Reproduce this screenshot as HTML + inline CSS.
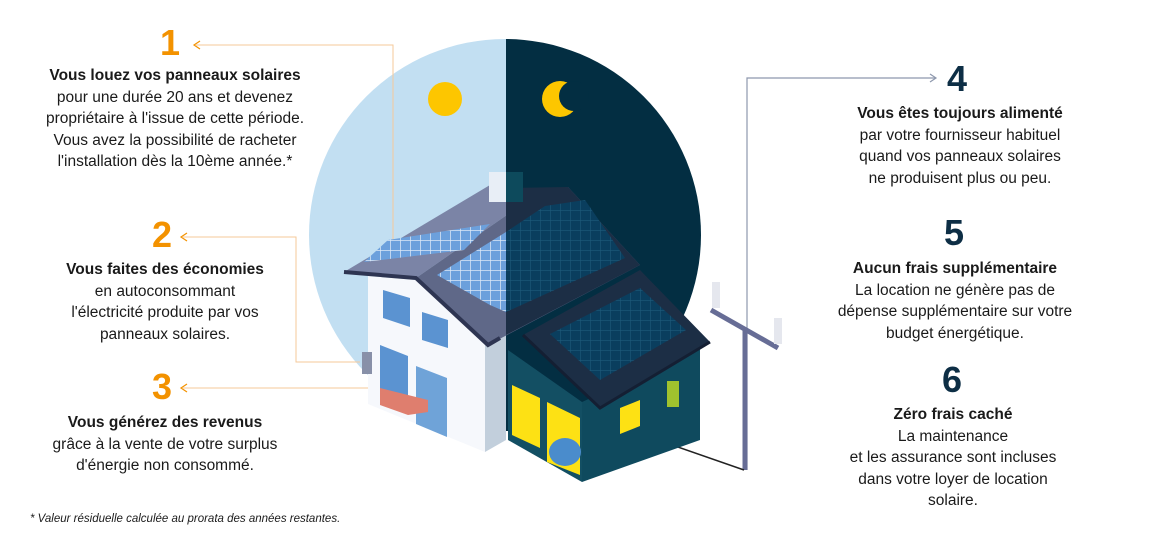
<!DOCTYPE html>
<html><head><meta charset="utf-8"><style>
body{margin:0;width:1152px;height:560px;background:#fff;font-family:"Liberation Sans",sans-serif;position:relative;overflow:hidden;color:#1a1a1a}
.n{position:absolute;font-weight:bold;font-size:36px;text-align:center}
.t{position:absolute;font-size:15.5px;line-height:21.5px;text-align:center}
.t b{font-weight:bold}
.o{color:#f39200}.d{color:#0d2e45}
</style></head><body>
<svg width="1152" height="560" style="position:absolute;left:0;top:0">
<defs><clipPath id="l"><rect x="0" y="0" width="506" height="560"/></clipPath><clipPath id="r"><rect x="506" y="0" width="700" height="560"/></clipPath>
<pattern id="pd" width="10" height="10" patternUnits="userSpaceOnUse"><rect width="10" height="10" fill="#6ca0dc"/><path d="M0 0H10M0 0V10" stroke="#dbe8f7" stroke-width="1.5"/></pattern>
<pattern id="pn" width="10" height="10" patternUnits="userSpaceOnUse"><rect width="10" height="10" fill="#0a3e5e"/><path d="M0 0H10M0 0V10" stroke="#1e5a7a" stroke-width="1.2"/></pattern></defs>
<circle cx="505" cy="235" r="196" fill="#c2dff2" clip-path="url(#l)"/>
<circle cx="505" cy="235" r="196" fill="#032e42" clip-path="url(#r)"/>
<circle cx="445" cy="99" r="17" fill="#fdc600"/>
<circle cx="560" cy="99" r="18" fill="#fdc600"/>
<circle cx="574" cy="96" r="15" fill="#032e42"/>
<!-- connectors -->
<g fill="none" stroke="#f6c99a" stroke-width="1"><path d="M196 45H393V400"/><path d="M183 237H296V362H360"/><path d="M183 388H380"/></g>
<path d="M200 41L194 45L200 49M187 233L181 237L187 241M187 384L181 388L187 392" fill="none" stroke="#f39200" stroke-width="1.2"/>
<g fill="none" stroke="#8e98ad" stroke-width="1.2"><path d="M747 470V78H935"/><path d="M930 74L936 78L930 82"/></g>
<!-- pole -->
<path d="M711 310L778 348" stroke="#676d96" stroke-width="5"/>
<path d="M745 330V470" stroke="#676d96" stroke-width="5"/>
<rect x="712" y="282" width="8" height="26" fill="#e5e7ee"/><rect x="774" y="318" width="8" height="26" fill="#e5e7ee"/>
<path d="M672 405V445L744 470" fill="none" stroke="#222" stroke-width="1.5"/>
<!-- white house -->
<polygon points="368,276 416,280 485,340 485,452 368,404" fill="#f6f8fc"/>
<polygon points="485,340 506,330 506,440 485,452" fill="#c2cfdc"/>
<polygon points="383,290 410,298 410,327 383,318" fill="#5b93d1"/>
<polygon points="422,312 448,320 448,348 422,340" fill="#5b93d1"/>
<polygon points="380,345 408,356 408,400 380,390" fill="#5b93d1"/>
<polygon points="416,366 447,378 447,437 416,424" fill="#6fa3d8"/>
<polygon points="380,388 428,400 428,412 408,415 380,405" fill="#df7e6e"/>
<rect x="362" y="352" width="10" height="22" fill="#8890a8"/>
<!-- main roof -->
<polygon points="344,272 416,278 540,192 490,185" fill="#7b84a6"/>
<polygon points="416,278 540,192 568,187 640,265 488,345" fill="#5f6888"/>
<path d="M344,272 L416,278 L488,345 L500,338" fill="none" stroke="#2e3552" stroke-width="4"/>
<polygon points="364,262 388,240 490,224 464,250" fill="url(#pd)"/>
<polygon points="437,275 506,232 506,312 490,305" fill="url(#pd)"/>
<rect x="489" y="172" width="34" height="30" fill="#e8eef6"/>
<!-- night roof -->
<polygon points="506,188 568,187 640,265 506,335" fill="#1c2e45"/>
<polygon points="506,232 545,206 585,200 625,258 506,312" fill="url(#pn)"/>
<rect x="506" y="172" width="17" height="30" fill="#0d4a5c"/>
<!-- annex -->
<polygon points="508,350 582,402 582,482 508,440" fill="#134f63"/>
<polygon points="582,402 700,348 700,440 582,482" fill="#0f4a5e"/>
<polygon points="512,385 540,398 540,448 512,435" fill="#fde114"/>
<polygon points="547,402 580,418 580,475 547,462" fill="#fde114"/>
<ellipse cx="565" cy="452" rx="16" ry="14" fill="#4a8ccc"/>
<polygon points="620,408 640,400 640,426 620,434" fill="#fde114"/>
<rect x="667" y="381" width="12" height="26" fill="#a0c22e"/>
<polygon points="523,335 640,270 710,342 600,408" fill="#1c2e45"/>
<path d="M523,335 L600,408 L710,342" fill="none" stroke="#141f33" stroke-width="3"/>
<polygon points="550,334 640,288 686,330 600,380" fill="url(#pn)"/>
</svg>
<div class="n o" style="left:160px;top:22px">1</div>
<div class="t" style="left:25px;top:65px;width:300px"><b>Vous louez vos panneaux solaires</b><br>pour une durée 20 ans et devenez<br>propriétaire à l'issue de cette période.<br>Vous avez la possibilité de racheter<br>l'installation dès la 10ème année.*</div>
<div class="n o" style="left:152px;top:214px">2</div>
<div class="t" style="left:15px;top:259px;width:300px"><b>Vous faites des économies</b><br>en autoconsommant<br>l'électricité produite par vos<br>panneaux solaires.</div>
<div class="n o" style="left:152px;top:366px">3</div>
<div class="t" style="left:15px;top:412px;width:300px"><b>Vous générez des revenus</b><br>grâce à la vente de votre surplus<br>d'énergie non consommé.</div>
<div class="n d" style="left:947px;top:58px">4</div>
<div class="t" style="left:810px;top:103px;width:300px"><b>Vous êtes toujours alimenté</b><br>par votre fournisseur habituel<br>quand vos panneaux solaires<br>ne produisent plus ou peu.</div>
<div class="n d" style="left:944px;top:212px">5</div>
<div class="t" style="left:805px;top:258px;width:300px"><b>Aucun frais supplémentaire</b><br>La location ne génère pas de<br>dépense supplémentaire sur votre<br>budget énergétique.</div>
<div class="n d" style="left:942px;top:359px">6</div>
<div class="t" style="left:803px;top:404px;width:300px"><b>Zéro frais caché</b><br>La maintenance<br>et les assurance sont incluses<br>dans votre loyer de location<br>solaire.</div>
<div style="position:absolute;left:30px;top:513px;font-size:11.5px;font-style:italic">* Valeur résiduelle calculée au prorata des années restantes.</div>
</body></html>
